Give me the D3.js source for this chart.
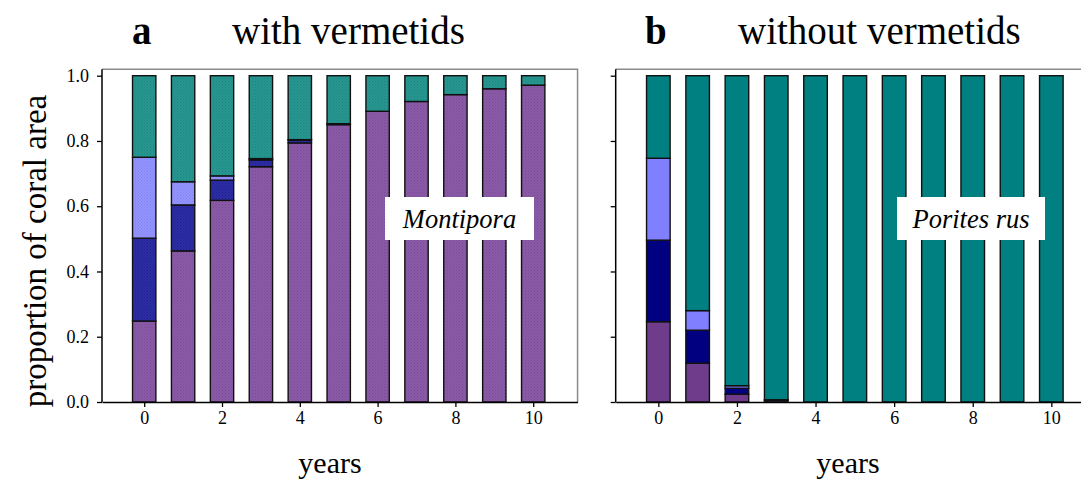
<!DOCTYPE html>
<html>
<head>
<meta charset="utf-8">
<script src="https://cdn.jsdelivr.net/npm/d3@7"></script>
<style>
  body { margin: 0; background: #fff; }
  svg { display: block; font-family: "Liberation Serif", "Times New Roman", serif; }
  svg text { font-family: "Liberation Serif", "Times New Roman", serif; }
</style>
</head>
<body>
<svg id="chart" width="1081" height="479"></svg>
<script>
// data, bottom to top of each bar
const years = [0, 1, 2, 3, 4, 5, 6, 7, 8, 9, 10]
const yTicks = [0, 0.2, 0.4, 0.6, 0.8, 1.0]
const xTicks = [0, 2, 4, 6, 8, 10]
const series = ['purple', 'navy', 'light', 'teal']

// panel a: with vermetids (Montipora)
const aPurple = [0.248, 0.463, 0.618, 0.721, 0.794, 0.850, 0.891, 0.921, 0.942, 0.960, 0.971]
const aNavy   = [0.254, 0.141, 0.062, 0.021, 0.009, 0.003, 0, 0, 0, 0, 0]
const aLight  = [0.248, 0.071, 0.013, 0.004, 0.001, 0, 0, 0, 0, 0, 0]

// panel b: without vermetids (Porites rus)
const bPurple = [0.246, 0.119, 0.024, 0.005, 0, 0, 0, 0, 0, 0, 0]
const bNavy   = [0.250, 0.101, 0.018, 0.002, 0, 0, 0, 0, 0, 0, 0]
const bLight  = [0.251, 0.060, 0.008, 0, 0, 0, 0, 0, 0, 0, 0]

function rows(p, n, l) {
  return years.map((yr, i) => ({
    year: yr, purple: p[i], navy: n[i], light: l[i],
    teal: Math.max(0, 1 - p[i] - n[i] - l[i])
  }))
}

const svg = d3.select('#chart')
const defs = svg.append('defs')

// stippled fills for panel a
const stipple = { purple: ['#8a5aa6', '#7a4c98'], navy: ['#2d2da6', '#1f1f8c'],
                  light: ['#9494ff', '#8282ee'], teal: ['#279690', '#1d8580'] }
Object.keys(stipple).forEach(k => {
  const pat = defs.append('pattern').attr('id', 'st-' + k)
    .attr('width', 3).attr('height', 3).attr('patternUnits', 'userSpaceOnUse')
  pat.append('rect').attr('width', 3).attr('height', 3).attr('fill', stipple[k][0])
  pat.append('rect').attr('x', 0).attr('y', 0).attr('width', 1).attr('height', 1).attr('fill', stipple[k][1])
  pat.append('rect').attr('x', 1.5).attr('y', 1.5).attr('width', 1).attr('height', 1).attr('fill', stipple[k][1])
})

const solid = { purple: '#6e3c8a', navy: '#000080', light: '#8080ff', teal: '#008080' }

const y = d3.scaleLinear().domain([0, 1]).range([402, 75.7])

function panel(opts) {
  const x = d3.scaleLinear().domain([-1.085, 11.14]).range([opts.x0, opts.x0 + opts.step * 12.225])
  const g = svg.append('g')
  const stack = d3.stack().keys(series)(opts.data)

  // grey frame top and right
  g.append('path')
    .attr('d', `M${x.range()[0]},${y(1.02)}H${x.range()[1]}V${y(0)}`)
    .attr('fill', 'none').attr('stroke', '#8a8a8a').attr('stroke-width', 1.5)

  const bw = opts.step * 0.6
  g.selectAll('g.layer').data(stack).enter().append('g')
    .attr('class', 'layer')
    .attr('fill', d => opts.fill(d.key))
    .selectAll('rect').data(d => d).enter().append('rect')
    .filter(d => d[1] - d[0] > 0)
    .attr('x', d => x(d.data.year) - bw / 2)
    .attr('width', bw)
    .attr('y', d => y(d[1]))
    .attr('height', d => y(d[0]) - y(d[1]))
    .attr('stroke', '#111').attr('stroke-width', 1.4)

  const yAxis = d3.axisLeft(y).tickValues(yTicks).tickSize(5).tickPadding(8)
    .tickFormat(opts.yLabels ? d3.format('.1f') : '')
  const ya = g.append('g').attr('transform', `translate(${x.range()[0]},0)`).call(yAxis)
  ya.select('.domain').attr('d', `M0,${y(1.02)}V${y(0)}`).attr('stroke', '#000').attr('stroke-width', 1.5)

  const xAxis = d3.axisBottom(x).tickValues(xTicks).tickSize(5).tickPadding(4).tickSizeOuter(0)
  const xa = g.append('g').attr('transform', `translate(0,${y(0)})`).call(xAxis)
  xa.select('.domain').attr('stroke', '#000').attr('stroke-width', 1.5)

  g.selectAll('.tick line').attr('stroke', '#000').attr('stroke-width', 1.3)
  g.selectAll('.tick text')
    .style('font-family', '"Liberation Serif", serif')
    .style('font-size', '18px').attr('fill', '#000')

  // legend box
  g.append('rect').attr('x', opts.box[0]).attr('y', 197)
    .attr('width', opts.box[1] - opts.box[0]).attr('height', 43).attr('fill', '#fff')
  g.append('text').attr('x', (opts.box[0] + opts.box[1]) / 2).attr('y', 228)
    .attr('text-anchor', 'middle').attr('font-style', 'italic').attr('font-size', 26.5)
    .text(opts.species)

  // title
  g.append('text').attr('x', opts.letterX).attr('y', 44).attr('font-weight', 'bold')
    .attr('font-size', 39).text(opts.letter)
  g.append('text').attr('x', opts.titleX).attr('y', 44).attr('font-size', 39).text(opts.title)

  g.append('text').attr('x', opts.yearsX).attr('y', 473).attr('text-anchor', 'middle')
    .attr('font-size', 30).text('years')
}

panel({ x0: 102, step: 38.9, data: rows(aPurple, aNavy, aLight), fill: k => `url(#st-${k})`,
  yLabels: true, box: [385, 534], species: 'Montipora', letter: 'a', letterX: 132,
  title: 'with vermetids', titleX: 232, yearsX: 330 })

panel({ x0: 615.7, step: 39.3, data: rows(bPurple, bNavy, bLight), fill: k => solid[k],
  yLabels: false, box: [897, 1045], species: 'Porites rus', letter: 'b', letterX: 645,
  title: 'without vermetids', titleX: 738, yearsX: 848 })

svg.append('text').attr('transform', 'translate(46,251) rotate(-90)')
  .attr('text-anchor', 'middle').attr('font-size', 33).text('proportion of coral area')
</script>
</body>
</html>
